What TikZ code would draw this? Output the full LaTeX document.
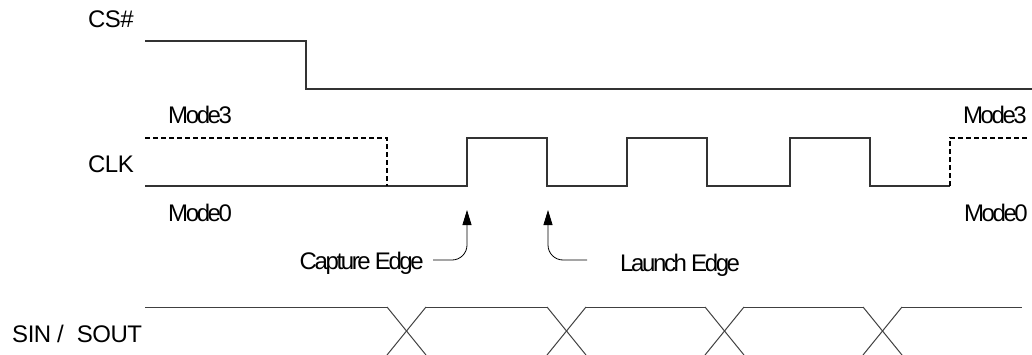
\documentclass[tikz,border=0pt]{standalone}
\usepackage{fontspec}
\setmainfont{Liberation Sans}[LetterSpace=-10]
\newfontfamily\capsfont{Liberation Sans}[LetterSpace=-2]
\usetikzlibrary{arrows.meta}

\begin{document}
\begin{tikzpicture}[x=1pt, y=1pt,
  lbl/.style={font=\fontsize{24}{28}\selectfont, inner sep=0pt},
  caplbl/.style={font=\capsfont\fontsize{24}{28}\selectfont, inner sep=0pt},
  wave/.style={line width=1.2pt, black!80},
  mode/.style={line width=1.2pt, black, dash pattern=on 5pt off 3pt},
  bus/.style={line width=1pt, black!75},
  pointer/.style={line width=0.8pt, black, -{Triangle[length=15pt,width=9pt]}}]

\useasboundingbox (0,0) rectangle (1032,354);

% Nodes
\node (cs) [caplbl, anchor=base east] at (134,326) {CS\#};
\node (clk) [caplbl, anchor=base east] at (134,182) {CLK};
\node (sio) [caplbl, anchor=base west] at (12,12) {SIN\hspace{6pt}/\hspace{13pt}SOUT};
\node (m3l) [lbl, anchor=base west] at (168,230) {Mode3};
\node (m0l) [lbl, anchor=base west] at (168,133) {Mode0};
\node (m3r) [lbl, anchor=base east] at (1027,230) {Mode3};
\node (m0r) [lbl, anchor=base east] at (1028,133) {Mode0};
\node (capture) [lbl, anchor=base east] at (424,85) {Capture Edge};
\node (launch) [lbl, anchor=base west] at (620,83) {Launch Edge};
\coordinate (capclk) at (467,144);
\coordinate (launchclk) at (548,144);

% Waves
\draw [wave] (145,313) -- (306,313) -- (306,265) -- (1032,265);
\draw [wave] (145,168) -- (467,168) -- (467,216) -- (547,216) -- (547,168) -- (627,168) -- (627,216) -- (707,216) -- (707,168) -- (790,168) -- (790,216) -- (870,216) -- (870,168) -- (950,168);
\draw [mode] (145,216) -- (387,216) -- (387,168);
\draw [mode] (950,168) -- (950,216) -- (1027,216);
\draw [bus] (145,47) -- (387,47) (426,47) -- (547,47) (586,47) -- (705,47) (744,47) -- (863,47) (902,47) -- (1022,47);
\foreach \x in {387,547,705,863} {
  \draw [bus] (\x,47) -- ++(39,-48);
  \draw [bus] (\x+39,47) -- ++(-39,-48);
}

% Arrows
\draw [pointer] (433,94) -- ++(19,0) arc[start angle=-90, end angle=0, radius=15] -- (capclk);
\draw [pointer] (587,94) -- ++(-24,0) arc[start angle=270, end angle=180, radius=15] -- (launchclk);

\end{tikzpicture}
\end{document}
